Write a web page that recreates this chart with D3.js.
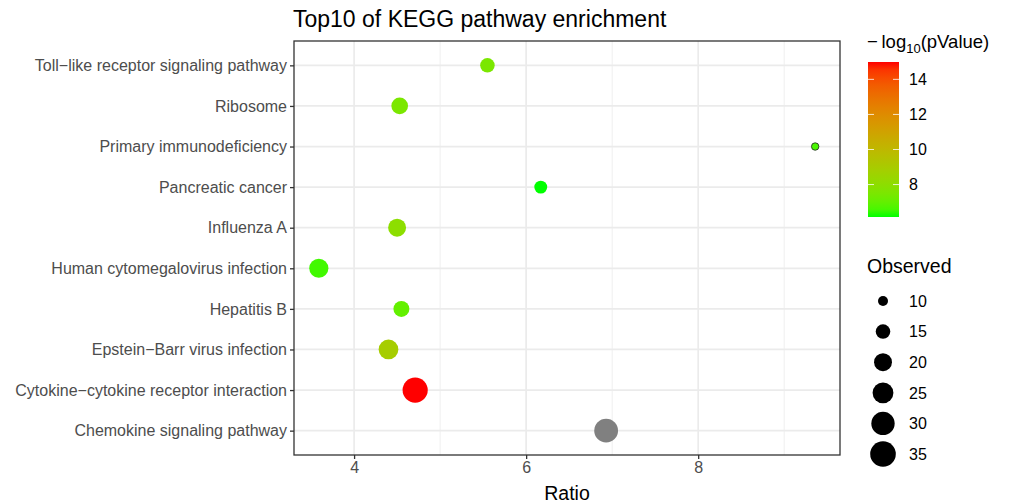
<!DOCTYPE html>
<html>
<head>
<meta charset="utf-8">
<script src="https://cdn.jsdelivr.net/npm/d3@7"></script>
<style>
  body { margin: 0; background: #fff; }
  text { font-family: "Liberation Sans", Arial, sans-serif; }
</style>
</head>
<body>
<div id="chart"></div>
<script>
// pathways listed bottom -> top, as in the plot
const pathways = [
  "Chemokine signaling pathway",
  "Cytokine\u2212cytokine receptor interaction",
  "Epstein\u2212Barr virus infection",
  "Hepatitis B",
  "Human cytomegalovirus infection",
  "Influenza A",
  "Pancreatic cancer",
  "Primary immunodeficiency",
  "Ribosome",
  "Toll\u2212like receptor signaling pathway"
];
const ratios   = [6.93, 4.71, 4.40, 4.55, 3.59, 4.50, 6.17, 9.36, 4.53, 5.55];
const observed = [31, 34, 23, 17, 22, 20, 13, 8, 18, 15];
const logP     = [null, 14.99, 8.9, 7.0, 6.5, 8.0, 6.15, 6.6, 7.5, 7.5];

const xTicks = [4, 6, 8];
const xMinor = [5, 7, 9];
const colorTicks = [8, 10, 12, 14];
const sizeBreaks = [10, 15, 20, 25, 30, 35];

const W = 1014, H = 503;
const m = { left: 294, right: 840, top: 41, bottom: 455 };

const data = pathways.map((p, i) => ({ name: p, ratio: ratios[i], obs: observed[i], lp: logP[i] }));

const svg = d3.select("#chart").append("svg")
  .attr("width", W).attr("height", H);

// scales
const xExt = d3.extent(ratios);
const xPad = (xExt[1] - xExt[0]) * 0.05;
const x = d3.scaleLinear().domain([xExt[0] - xPad, xExt[1] + xPad]).range([m.left, m.right]);

const y = d3.scalePoint().domain(pathways).range([m.bottom, m.top]).padding(0.6);

const lpVals = logP.filter(v => v != null);
const cDomain = [d3.min(lpVals), d3.max(lpVals)];
const color = d3.scaleLinear().domain(cDomain).range(["#00FF00", "#FF0000"])
  .interpolate(d3.interpolateLab);

// area scale, like ggplot's scale_size
const area = d3.scaleLinear().domain([5.5, 35]).range([0, 164]);
const rad = v => Math.sqrt(Math.max(area(v), 0));

// panel background grid
const g = svg.append("g");
g.selectAll(".minor").data(xMinor).join("line")
  .attr("x1", d => x(d)).attr("x2", d => x(d))
  .attr("y1", m.top).attr("y2", m.bottom)
  .attr("stroke", "#EBEBEB").attr("stroke-width", 0.8);
g.selectAll(".majx").data(xTicks).join("line")
  .attr("x1", d => x(d)).attr("x2", d => x(d))
  .attr("y1", m.top).attr("y2", m.bottom)
  .attr("stroke", "#EBEBEB").attr("stroke-width", 1.7);
g.selectAll(".majy").data(pathways).join("line")
  .attr("x1", m.left).attr("x2", m.right)
  .attr("y1", d => y(d)).attr("y2", d => y(d))
  .attr("stroke", "#EBEBEB").attr("stroke-width", 1.7);

// points
svg.append("g").selectAll("circle").data(data).join("circle")
  .attr("cx", d => x(d.ratio))
  .attr("cy", d => y(d.name))
  .attr("r", d => rad(d.obs))
  .attr("fill", d => d.lp == null ? "#808080" : color(d.lp))
  .attr("stroke", d => d.obs < 10 ? "#222" : "none")
  .attr("stroke-width", 0.8);

// panel border
svg.append("rect")
  .attr("x", m.left).attr("y", m.top)
  .attr("width", m.right - m.left).attr("height", m.bottom - m.top)
  .attr("fill", "none").attr("stroke", "#333").attr("stroke-width", 1.3);

// axes
const xAxis = svg.append("g").attr("transform", `translate(0,${m.bottom})`)
  .call(d3.axisBottom(x).tickValues(xTicks).tickSize(4).tickPadding(3).tickFormat(d3.format("d")));
const yAxis = svg.append("g").attr("transform", `translate(${m.left},0)`)
  .call(d3.axisLeft(y).tickSize(4).tickPadding(3));
[xAxis, yAxis].forEach(a => {
  a.select(".domain").remove();
  a.selectAll(".tick line").attr("stroke", "#333").attr("stroke-width", 1.3);
  a.selectAll(".tick text").attr("fill", "#4D4D4D").style("font-size", "16px")
    .style("font-family", "'Liberation Sans', Arial, sans-serif");
});

// titles
svg.append("text").attr("x", m.left - 1).attr("y", 27)
  .style("font-size", "23px").attr("fill", "#000")
  .text("Top10 of KEGG pathway enrichment");
svg.append("text").attr("x", (m.left + m.right) / 2).attr("y", 500)
  .attr("text-anchor", "middle").style("font-size", "19.5px").attr("fill", "#000")
  .text("Ratio");

// colour legend
const lg = svg.append("g");
const cbTop = 62, cbBot = 217, cbX = 868, cbW = 31;
const cy = d3.scaleLinear().domain(cDomain).range([cbBot, cbTop]);
const grad = svg.append("defs").append("linearGradient")
  .attr("id", "cgrad").attr("x1", 0).attr("x2", 0).attr("y1", 1).attr("y2", 0);
d3.range(0, 1.0001, 0.05).forEach(t => {
  grad.append("stop").attr("offset", t)
    .attr("stop-color", color(cDomain[0] + t * (cDomain[1] - cDomain[0])));
});
lg.append("rect").attr("x", cbX).attr("y", cbTop).attr("width", cbW).attr("height", cbBot - cbTop)
  .attr("fill", "url(#cgrad)");
colorTicks.forEach(v => {
  const yy = cy(v);
  lg.append("line").attr("x1", cbX).attr("x2", cbX + 6).attr("y1", yy).attr("y2", yy)
    .attr("stroke", "#fff").attr("stroke-width", 0.8);
  lg.append("line").attr("x1", cbX + cbW - 6).attr("x2", cbX + cbW).attr("y1", yy).attr("y2", yy)
    .attr("stroke", "#fff").attr("stroke-width", 0.8);
  lg.append("text").attr("x", 909).attr("y", yy).attr("dy", "0.36em")
    .style("font-size", "16px").attr("fill", "#000").text(v);
});
const lt = lg.append("text").attr("x", 867).attr("y", 48).style("font-size", "18.5px").attr("fill", "#000");
lt.append("tspan").text("\u2212\u2009log");
lt.append("tspan").attr("dy", 5).style("font-size", "13px").text("10");
lt.append("tspan").attr("dy", -5).text("(pValue)");

// size legend
svg.append("text").attr("x", 867).attr("y", 273).style("font-size", "19.5px").attr("fill", "#000")
  .text("Observed");
const sy = d3.scalePoint().domain(sizeBreaks).range([301, 454]);
const sg = svg.append("g").selectAll("g").data(sizeBreaks).join("g")
  .attr("transform", d => `translate(0,${sy(d)})`);
sg.append("circle").attr("cx", 883).attr("cy", 0).attr("r", d => rad(d)).attr("fill", "#000");
sg.append("text").attr("x", 909).attr("y", 0).attr("dy", "0.36em")
  .style("font-size", "16px").attr("fill", "#000").text(d => d);
</script>
</body>
</html>
